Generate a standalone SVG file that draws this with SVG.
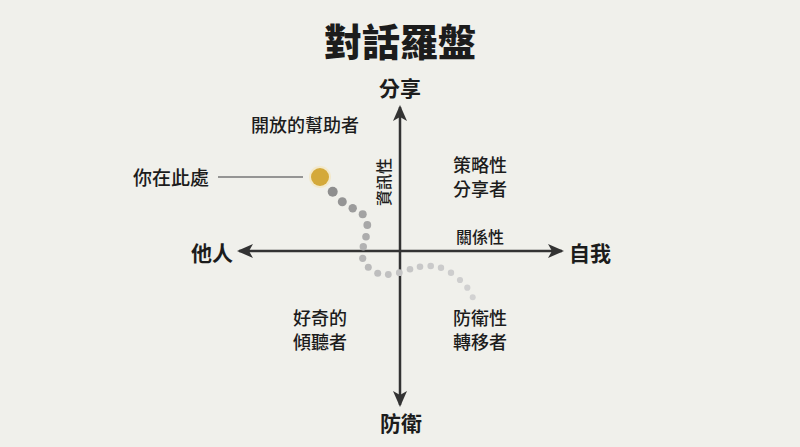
<svg xmlns="http://www.w3.org/2000/svg" width="800" height="447" viewBox="0 0 800 447">
<style>
text{font-family:"Noto Sans CJK TC","Noto Sans CJK SC",sans-serif;fill:#1c1c1c}
.title{font-size:38px;font-weight:900}
.axis{font-size:21px;font-weight:700}
.q{font-size:18px;font-weight:500}
.s{font-size:16px;font-weight:500}
.ax{stroke:#333;stroke-width:2.5;fill:none}
</style>
<defs>
<marker id="ah" viewBox="0 0 16 14" refX="14" refY="7" markerWidth="16" markerHeight="14" markerUnits="userSpaceOnUse" orient="auto">
<path d="M0,0 L16,7 L0,14 L4,7 Z" fill="#333"/>
</marker>
</defs>
<rect width="800" height="447" fill="#F0F0EB"/>
<g id="title"><text class="title" x="400" y="56" text-anchor="middle">對話羅盤</text></g>
<g id="connectors">
<line class="ax" x1="400" y1="251" x2="400" y2="107" marker-end="url(#ah)"/>
<line class="ax" x1="400" y1="251" x2="400" y2="405" marker-end="url(#ah)"/>
<line class="ax" x1="400" y1="251" x2="239" y2="251" marker-end="url(#ah)"/>
<line class="ax" x1="400" y1="251" x2="562" y2="251" marker-end="url(#ah)"/>
<line x1="218" y1="177" x2="303" y2="177" stroke="#777" stroke-width="1.5"/>
</g>
<g id="label-share"><text class="axis" x="400" y="96" text-anchor="middle">分享</text></g>
<g id="label-defend"><text class="axis" x="401" y="431" text-anchor="middle">防衛</text></g>
<g id="label-others"><text class="axis" x="233" y="261" text-anchor="end">他人</text></g>
<g id="label-self"><text class="axis" x="569" y="261">自我</text></g>
<g id="label-info"><text class="s" transform="translate(390,182) rotate(-90)" text-anchor="middle">資訊性</text></g>
<g id="label-relation"><text class="s" x="480" y="243" text-anchor="middle">關係性</text></g>
<g id="q-open"><text class="q" x="305" y="132" text-anchor="middle">開放的幫助者</text></g>
<g id="q-strategic"><text class="q" x="480" y="172" text-anchor="middle">策略性</text><text class="q" x="480" y="196" text-anchor="middle">分享者</text></g>
<g id="q-curious"><text class="q" x="320" y="325" text-anchor="middle">好奇的</text><text class="q" x="320" y="349" text-anchor="middle">傾聽者</text></g>
<g id="q-defensive"><text class="q" x="480" y="325" text-anchor="middle">防衛性</text><text class="q" x="480" y="349" text-anchor="middle">轉移者</text></g>
<g id="you-are-here"><text class="q" x="209" y="185" text-anchor="end" style="font-size:19px">你在此處</text></g>
<g id="path-dots">
<circle cx="320" cy="177" r="11" fill="#F3E6BE" opacity="0.7"/>
<circle cx="320" cy="177" r="9" fill="#D4A93A"/>
<circle cx="332.7" cy="191.7" r="5" fill="#8E8E8E"/>
<circle cx="342.3" cy="201.7" r="4.5" fill="#959595"/>
<circle cx="352.7" cy="208.3" r="4.2" fill="#9C9C9C"/>
<circle cx="362.7" cy="214.3" r="4" fill="#A3A3A3"/>
<circle cx="367.3" cy="225" r="3.9" fill="#A8A8A8"/>
<circle cx="366" cy="236.7" r="3.8" fill="#ADADAD"/>
<circle cx="363.3" cy="246.7" r="3.7" fill="#B2B2B2"/>
<circle cx="362.7" cy="258.3" r="3.6" fill="#B6B6B6"/>
<circle cx="368.3" cy="267.3" r="3.5" fill="#BABABA"/>
<circle cx="377.7" cy="273.3" r="3.5" fill="#BEBEBE"/>
<circle cx="388.3" cy="274.5" r="3.4" fill="#C1C1C1"/>
<circle cx="399.3" cy="272.7" r="3.4" fill="#C4C4C4"/>
<circle cx="410" cy="269.3" r="3.3" fill="#C6C6C6"/>
<circle cx="420" cy="266.7" r="3.3" fill="#C8C8C8"/>
<circle cx="430.7" cy="266" r="3.3" fill="#CACACA"/>
<circle cx="441" cy="267.7" r="3.2" fill="#CBCBCB"/>
<circle cx="451" cy="272.7" r="3.2" fill="#CDCDCD"/>
<circle cx="460" cy="280" r="3.1" fill="#CECECE"/>
<circle cx="467.3" cy="287.7" r="3.1" fill="#D0D0D0"/>
<circle cx="472.7" cy="297.3" r="3" fill="#D2D2D2"/>
</g>
</svg>
